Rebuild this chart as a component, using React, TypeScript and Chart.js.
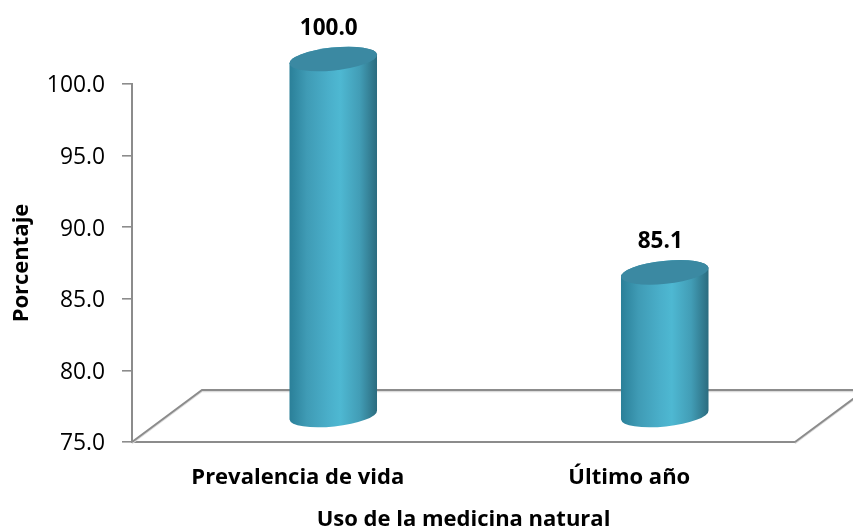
import React, { useEffect, useRef } from "react";
import { Chart, registerables } from "chart.js";

Chart.register(...registerables);

const categories = ["Prevalencia de vida", "Último año"];
const values = [100.0, 85.1];
const yTitle = "Porcentaje";
const xTitle = "Uso de la medicina natural";
const FONT = "'Open Sans', sans-serif";
const AXIS = "#8c8c8c";
const DEPTH_X = 70;
const DEPTH_Y = 52;

const cylinderPlugin = {
  id: "cylinder3d",
  beforeDatasetsDraw(chart: any) {
    const { ctx, chartArea } = chart;
    const { left, right, bottom } = chartArea;
    const backY = bottom - DEPTH_Y;
    const backX = left + DEPTH_X;
    const line = (pts: number[][], color: string, width: number, dy = 0) => {
      ctx.beginPath();
      pts.forEach((p, i) => (i ? ctx.lineTo(p[0], p[1] + dy) : ctx.moveTo(p[0], p[1] + dy)));
      ctx.strokeStyle = color;
      ctx.lineWidth = width;
      ctx.stroke();
    };
    ctx.save();
    const floor = [
      [left, bottom],
      [backX, backY],
      [right + DEPTH_X, backY],
      [right, bottom],
    ];
    line(floor, "#dcdcdc", 1.5, 1.5);
    line(floor, AXIS, 2);
    ctx.restore();
  },
  afterDatasetsDraw(chart: any) {
    const { ctx } = chart;
    const meta = chart.getDatasetMeta(0);
    const yScale = chart.scales.y;
    const rot = (-6 * Math.PI) / 180;
    meta.data.forEach((bar: any, i: number) => {
      const cx = bar.x + DEPTH_X / 2 + 0.5;
      const topY = yScale.getPixelForValue(values[i]) - DEPTH_Y / 2 + 1;
      const baseY = yScale.getPixelForValue(yScale.min) - DEPTH_Y / 2 - 1;
      const rx = bar.width / 2;
      const ry = 11.5;
      const x0 = cx - rx;
      const x1 = cx + rx;
      const g = ctx.createLinearGradient(x0, 0, x1, 0);
      g.addColorStop(0, "#2a7f98");
      g.addColorStop(0.2, "#3f9bb5");
      g.addColorStop(0.45, "#4aafca");
      g.addColorStop(0.58, "#4eb8d2");
      g.addColorStop(0.8, "#429db6");
      g.addColorStop(1, "#2b6b7e");
      ctx.save();
      ctx.beginPath();
      ctx.ellipse(cx, baseY, rx, ry, rot, 0, Math.PI, false);
      ctx.ellipse(cx, topY, rx, ry, rot, Math.PI, 2 * Math.PI, false);
      ctx.closePath();
      ctx.fillStyle = g;
      ctx.fill();
      ctx.beginPath();
      ctx.ellipse(cx, topY, rx, ry, rot, 0, 2 * Math.PI);
      ctx.fillStyle = "#3b89a2";
      ctx.fill();
      ctx.font = `bold 22.5px ${FONT}`;
      ctx.fillStyle = "#000";
      ctx.textAlign = "center";
      ctx.textBaseline = "middle";
      ctx.fillText(values[i].toFixed(1), cx - 4.5, topY - 30.5);
      ctx.restore();
    });
  },
};

export default function App() {
  const ref = useRef<HTMLCanvasElement>(null);
  useEffect(() => {
    document.body.style.margin = "0";
    const chart = new Chart(ref.current as HTMLCanvasElement, {
      type: "bar",
      data: {
        labels: categories,
        datasets: [
          {
            data: values,
            backgroundColor: "rgba(0,0,0,0)",
            barThickness: 88,
          },
        ],
      },
      options: {
        responsive: false,
        animation: false,
        layout: { padding: { top: 84, right: 58, left: 0, bottom: 0 } },
        plugins: { legend: { display: false }, tooltip: { enabled: false } },
        scales: {
          x: {
            grid: { display: false, drawTicks: false },
            border: { color: AXIS, width: 2 },
            ticks: {
              color: "#000",
              padding: 23,
              maxRotation: 0,
              font: { family: FONT, weight: "bold", size: 22 },
            },
            title: {
              display: true,
              text: xTitle,
              color: "#000",
              padding: { top: 12, bottom: -5 },
              font: { family: FONT, weight: "bold", size: 22 },
            },
            afterFit(s: any) {
              s.height = 86;
            },
          },
          y: {
            min: 75,
            max: 100,
            grid: { drawOnChartArea: false, tickLength: 10, color: AXIS, lineWidth: 1.6 },
            border: { color: AXIS, width: 2 },
            ticks: {
              stepSize: 5,
              color: "#000",
              padding: 17,
              labelOffset: 2,
              font: { family: FONT, size: 22.8 },
              callback: (v: any) => Number(v).toFixed(1),
            },
            title: {
              display: true,
              text: yTitle,
              color: "#000",
              padding: { top: 9, bottom: 0 },
              font: { family: FONT, weight: "bold", size: 22 },
            },
            afterFit(s: any) {
              s.width = 132;
            },
          },
        },
      },
      plugins: [cylinderPlugin],
    } as any);
    return () => chart.destroy();
  }, []);
  return (
    <div style={{ width: 853, height: 528 }}>
      <canvas ref={ref} width={853} height={528} style={{ display: "block" }} />
    </div>
  );
}
